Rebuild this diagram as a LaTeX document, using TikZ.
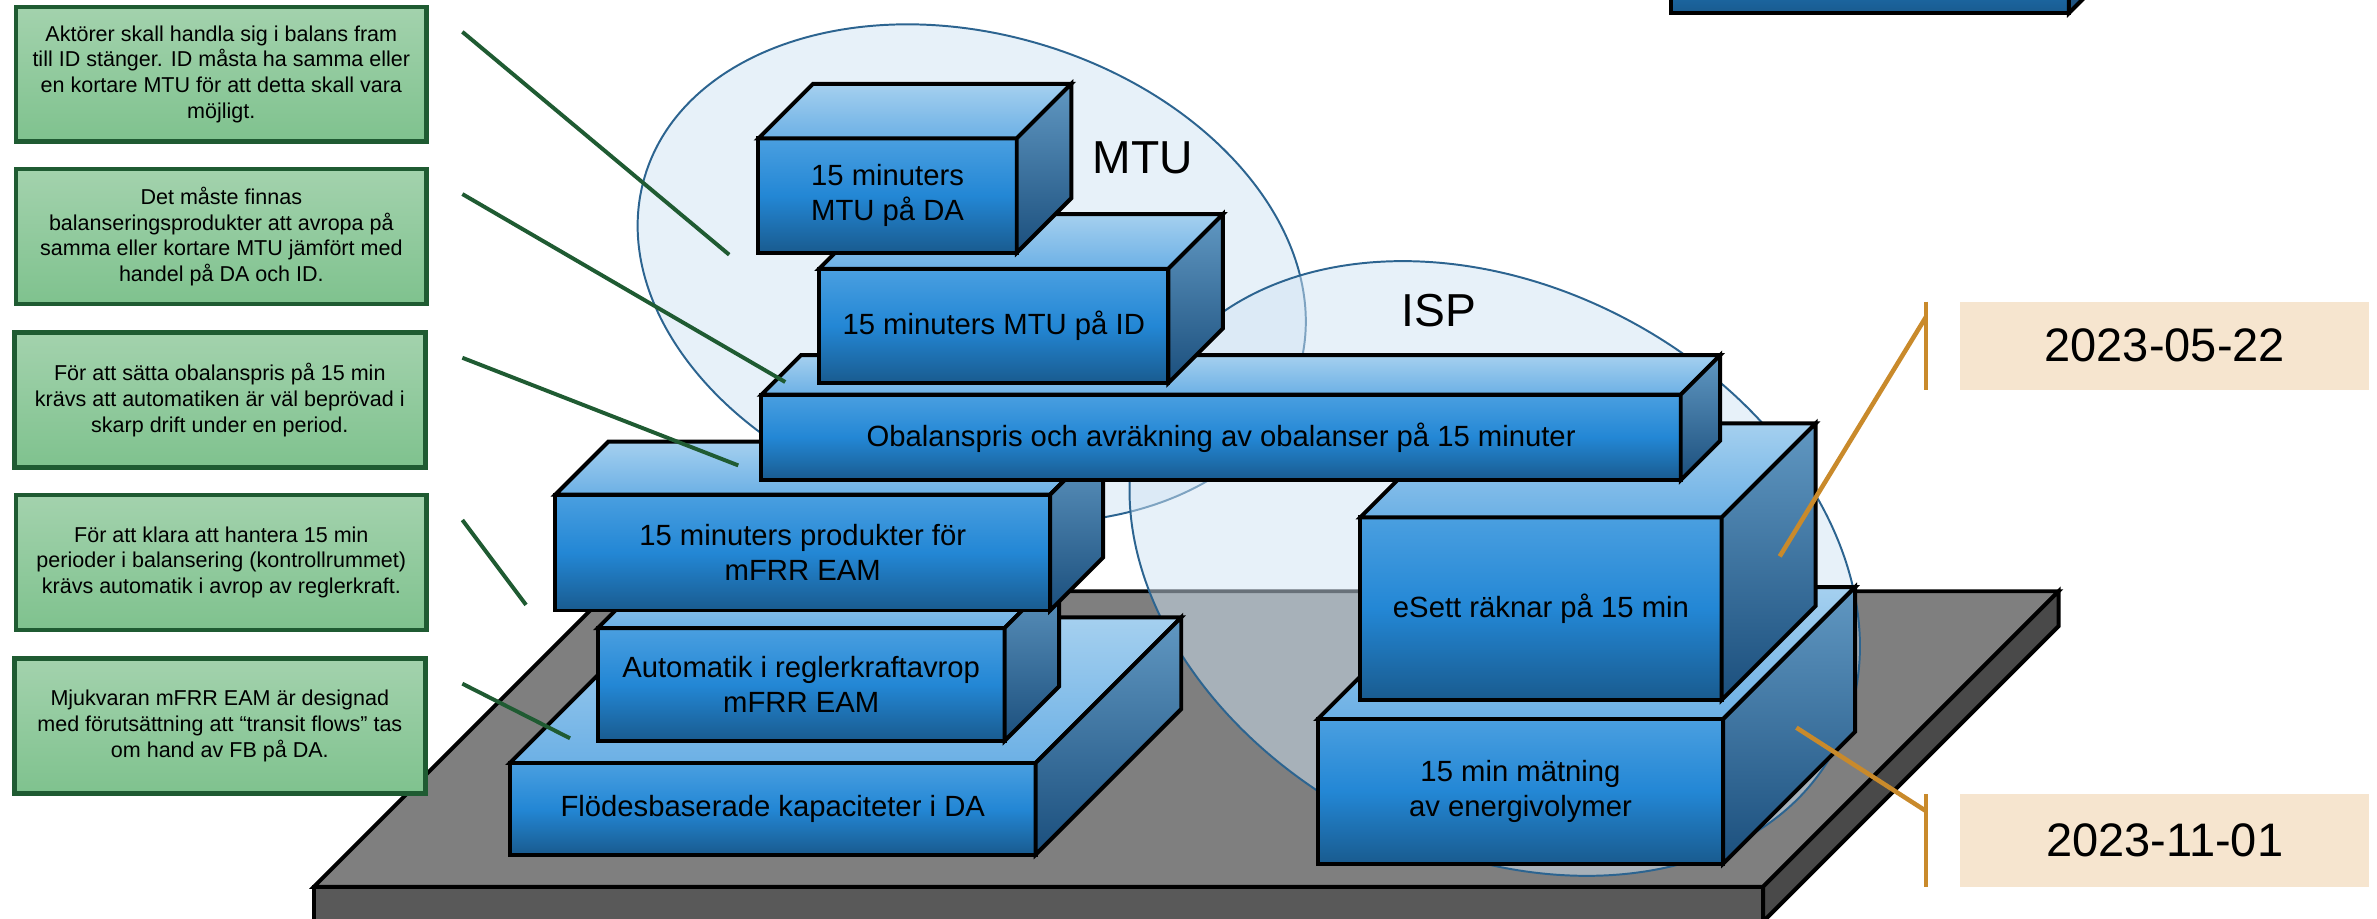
\documentclass[tikz,border=0pt]{standalone}
\usepackage{fontspec}
\setmainfont{Liberation Sans}
\usetikzlibrary{calc}
\definecolor{frontA}{HTML}{4A9FE0}
\definecolor{frontB}{HTML}{2387D5}
\definecolor{frontC}{HTML}{195B8F}
\definecolor{topA}{HTML}{A5D0EF}
\definecolor{topB}{HTML}{6CB0E5}
\definecolor{sideA}{HTML}{6198C2}
\definecolor{sideB}{HTML}{1B4F7D}
\definecolor{platTop}{HTML}{7F7F7F}
\definecolor{platFront}{HTML}{595959}
\definecolor{platSide}{HTML}{494949}
\definecolor{ellFill}{RGB}{208,227,243}
\definecolor{ellLine}{HTML}{2C6490}
\definecolor{grnA}{HTML}{A3D2AD}
\definecolor{grnB}{HTML}{7FC28E}
\definecolor{grnLine}{HTML}{1F5B32}
\definecolor{orng}{HTML}{C98A2B}
\definecolor{peach}{HTML}{F6E5CF}

\newcommand\blockbox[7]{%
  \node[frontface, minimum width={#4-(#2)-2.6}, minimum height={#5-(#3)-2.6}] (#1) at ({(#2+#4)/2},{(#3+#5)/2}) {#7};
  \draw[topface] (#1.north west) -- ++(#6,-#6) -- ($(#1.north east)+(#6,-#6)$) -- (#1.north east) -- cycle;
  \draw[sideface] (#1.north east) -- ++(#6,-#6) -- ($(#1.south east)+(#6,-#6)$) -- (#1.south east) -- cycle;
}

\begin{document}
\begin{tikzpicture}[x=1pt,y=-1pt,line join=miter,
  frontface/.style={draw=black, line width=2.6pt, shading=axis, top color=frontA, bottom color=frontC, middle color=frontB,
    inner sep=0pt, outer sep=0pt, align=center, text=black, font=\fontsize{19.3}{23.5}\selectfont},
  topface/.style={draw=black, line width=2.6pt, shading=axis, top color=topA, bottom color=topB},
  sideface/.style={draw=black, line width=2.6pt, shading=axis, top color=sideA, bottom color=sideB},
  notebox/.style={draw=grnLine, line width=3pt, shading=axis, top color=grnA, bottom color=grnB,
    minimum width=271, minimum height=89, inner sep=0pt, outer sep=0pt, align=center, text=black,
    font=\fontsize{14.2}{17}\selectfont},
  noteline/.style={draw=grnLine, line width=2.6pt},
  datebox/.style={fill=peach, minimum width=270, minimum height=58, inner sep=0pt, font=\fontsize{31}{36}\selectfont},
  dateline/.style={draw=orng, line width=3pt},
  ell/.style={fill=ellFill, fill opacity=0.5, draw=ellLine, line width=1.3pt},
  biglabel/.style={inner sep=0pt, font=\fontsize{30.5}{36}\selectfont}]
\useasboundingbox (0,0) rectangle (1568,606);

% platform
\path[fill=platTop, draw=black, line width=2.6pt] (207,585) -- (402,390) -- (1358,390) -- (1163,585) -- cycle;
\path[fill=platFront, draw=black, line width=2.6pt] (207,585) rectangle (1163,608);
\path[fill=platSide, draw=black, line width=2.6pt] (1163,585) -- (1358,390) -- (1358,413) -- (1163,608) -- cycle;

% ellipses
\path[ell, rotate around={-16.5:(641,180.5)}] (641,180.5) ellipse [x radius=225pt, y radius=158pt];
\path[ell, rotate around={-27.8:(986,375)}] (986,375) ellipse [x radius=254pt, y radius=186pt];
\node[biglabel] (mtu) at (754,104) {MTU};
\node[biglabel] (isp) at (949,205) {ISP};

% blocks
\blockbox{b6}{335}{502}{684.5}{565}{96}{Flödesbaserade kapaciteter i DA}
\blockbox{b5}{393}{413}{664}{490}{36}{Automatik i reglerkraftavrop\\mFRR EAM}
\blockbox{b4}{365}{325}{694}{404}{35}{15 minuters produkter för\\mFRR EAM}
\blockbox{b8}{868}{473}{1138}{571}{87}{15 min mätning\\av energivolymer}
\blockbox{b7}{896}{340}{1137}{463}{62}{eSett räknar på 15 min}
\blockbox{b3}{501}{259}{1110}{318}{26}{Obalanspris och avräkning av obalanser på 15 minuter}
\blockbox{b2}{539}{176}{772}{254}{36}{15 minuters MTU på ID}
\blockbox{b1}{499}{90}{672}{168}{36}{15 minuters\\MTU på DA}
\blockbox{tr}{1101}{-80}{1366}{10}{30}{}

% notes
\node[notebox] (g1) at (146,49) {Aktörer skall handla sig i balans fram\\till ID stänger. ID måsta ha samma eller\\en kortare MTU för att detta skall vara\\möjligt.};
\node[notebox] (g2) at (146,156) {Det måste finnas\\balanseringsprodukter att avropa på\\samma eller kortare MTU jämfört med\\handel på DA och ID.};
\node[notebox] (g3) at (145,264) {För att sätta obalanspris på 15 min\\krävs att automatiken är väl beprövad i\\skarp drift under en period.};
\node[notebox] (g4) at (146,371) {För att klara att hantera 15 min\\perioder i balansering (kontrollrummet)\\krävs automatik i avrop av reglerkraft.};
\node[notebox] (g5) at (145,479) {Mjukvaran mFRR EAM är designad\\med förutsättning att “transit flows” tas\\om hand av FB på DA.};

\coordinate (l1s) at (305,21);  \coordinate (l1e) at (481,168);
\coordinate (l2s) at (305,128); \coordinate (l2e) at (518,252);
\coordinate (l3s) at (305,236); \coordinate (l3e) at (487,307);
\coordinate (l4s) at (305,343); \coordinate (l4e) at (347,399);
\coordinate (l5s) at (305,451); \coordinate (l5e) at (376,487);
\draw[noteline] (l1s) -- (l1e);
\draw[noteline] (l2s) -- (l2e);
\draw[noteline] (l3s) -- (l3e);
\draw[noteline] (l4s) -- (l4e);
\draw[noteline] (l5s) -- (l5e);

% dates
\node[datebox] (d1) at (1428,228) {2023-05-22};
\node[datebox, minimum height=61] (d2) at (1428,554.5) {2023-11-01};
\coordinate (o1t) at (1270.5,199); \coordinate (o1b) at (1270.5,257);
\coordinate (o1s) at (1270.5,209); \coordinate (o1e) at (1174,367);
\coordinate (o2t) at (1270.5,524); \coordinate (o2b) at (1270.5,585);
\coordinate (o2s) at (1270.5,535); \coordinate (o2e) at (1185,480);
\draw[dateline] (o1t) -- (o1b);
\draw[dateline] (o1s) -- (o1e);
\draw[dateline] (o2t) -- (o2b);
\draw[dateline] (o2s) -- (o2e);
\end{tikzpicture}
\end{document}
